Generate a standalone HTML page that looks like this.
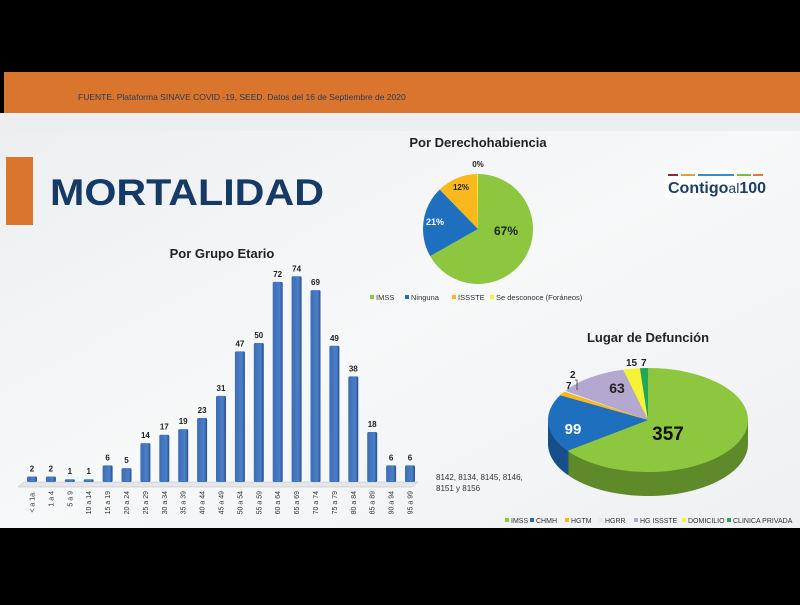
<!DOCTYPE html>
<html><head><meta charset="utf-8"><style>
body{margin:0;width:800px;height:600px;overflow:hidden;background:#000;font-family:"Liberation Sans",sans-serif}
</style></head><body>
<svg width="800" height="600" xmlns="http://www.w3.org/2000/svg" font-family="Liberation Sans, sans-serif">
<defs>
<linearGradient id="bg" x1="0" y1="0" x2="1" y2="1"><stop offset="0" stop-color="#eceef0"/><stop offset="0.5" stop-color="#f7f8f9"/><stop offset="1" stop-color="#eef0f2"/></linearGradient>
<linearGradient id="bar" x1="0" x2="1"><stop offset="0" stop-color="#3b6db5"/><stop offset="0.7" stop-color="#4a7fc8"/><stop offset="1" stop-color="#2a4f8a"/></linearGradient>
</defs>
<rect x="0" y="0" width="800" height="600" fill="#000"/>
<rect x="0" y="113" width="800" height="415" fill="url(#bg)"/>
<rect x="0" y="113" width="800" height="18" fill="#eceef0"/>
<rect x="4" y="72" width="796" height="41" fill="#d9752d"/>
<text x="78" y="100" font-size="8.5" fill="#2d3a55">FUENTE. Plataforma SINAVE COVID -19, SEED. Datos del 16 de Septiembre de 2020</text>
<rect x="6" y="157" width="27" height="68" fill="#d9752d"/>
<text x="50" y="205" font-size="37" font-weight="bold" fill="#153a66" textLength="274" lengthAdjust="spacingAndGlyphs">MORTALIDAD</text>
<!-- logo -->
<rect x="665" y="170" width="100" height="28" fill="#fff"/>
<rect x="668" y="174" width="10" height="2" fill="#8a2a3a"/><rect x="681" y="174" width="14" height="2" fill="#d9a040"/><rect x="698" y="174" width="36" height="2" fill="#3a8cc8"/><rect x="737" y="174" width="14" height="2" fill="#7ab84a"/><rect x="753" y="174" width="10" height="2" fill="#d97a4a"/>
<text x="668" y="193" font-size="16" font-weight="bold" fill="#1d3d6a">Contigo<tspan font-weight="normal" font-size="14">al</tspan>100</text>
<!-- bar chart -->
<text x="222" y="258" font-size="13" font-weight="bold" fill="#222" text-anchor="middle">Por Grupo Etario</text>
<polygon points="24,482 418,482 412,487 18,487" fill="#e4e6ea" stroke="#bbb" stroke-width="0.5"/>
<g id="bars"></g>
<text x="436" y="480" font-size="8" fill="#333">8142, 8134, 8145, 8146,</text>
<text x="436" y="491" font-size="8" fill="#333">8151 y 8156</text>
<!-- pie 1 -->
<text x="478" y="147" font-size="13" font-weight="bold" fill="#222" text-anchor="middle">Por Derechohabiencia</text>
<g id="pie1"></g>
<text x="478" y="167" font-size="8" font-weight="bold" fill="#222" text-anchor="middle">0%</text>
<text x="461" y="190" font-size="8" font-weight="bold" fill="#222" text-anchor="middle">12%</text>
<text x="435" y="225" font-size="9" font-weight="bold" fill="#fff" text-anchor="middle">21%</text>
<text x="506" y="235" font-size="12" font-weight="bold" fill="#222" text-anchor="middle">67%</text>
<g font-size="7.5" fill="#333">
<rect x="370" y="295" width="4" height="4" fill="#8dc63f"/><text x="376" y="300">IMSS</text>
<rect x="405" y="295" width="4" height="4" fill="#1f6fbf"/><text x="411" y="300">Ninguna</text>
<rect x="452" y="295" width="4" height="4" fill="#f9b81b"/><text x="458" y="300">ISSSTE</text>
<rect x="490" y="295" width="4" height="4" fill="#f6f23a"/><text x="496" y="300">Se desconoce (Foráneos)</text>
</g>
<!-- pie 2 -->
<text x="648" y="342" font-size="13" font-weight="bold" fill="#222" text-anchor="middle">Lugar de Defunción</text>
<g id="pie2"></g>
<text x="668" y="440" font-size="19" font-weight="bold" fill="#111" text-anchor="middle">357</text>
<text x="573" y="434" font-size="15" font-weight="bold" fill="#fff" text-anchor="middle">99</text>
<text x="617" y="393" font-size="14" font-weight="bold" fill="#222" text-anchor="middle">63</text>
<text x="566" y="389" font-size="10" font-weight="bold" fill="#222">7</text>
<text x="570" y="378" font-size="10" font-weight="bold" fill="#222">2</text>
<polyline points="575,380 577,380 577,390" fill="none" stroke="#333" stroke-width="0.7"/>
<text x="626" y="366" font-size="10" font-weight="bold" fill="#222">15</text>
<text x="641" y="366" font-size="10" font-weight="bold" fill="#222">7</text>
<g font-size="7" fill="#333">
<rect x="505" y="518" width="4" height="4" fill="#8dc63f"/><text x="511" y="523">IMSS</text>
<rect x="530" y="518" width="4" height="4" fill="#1f6fbf"/><text x="536" y="523">CHMH</text>
<rect x="565" y="518" width="4" height="4" fill="#f9b81b"/><text x="571" y="523">HGTM</text>
<rect x="599" y="518" width="4" height="4" fill="#e8e8ee"/><text x="605" y="523">HGRR</text>
<rect x="634" y="518" width="4" height="4" fill="#b4a7d0"/><text x="640" y="523">HG ISSSTE</text>
<rect x="682" y="518" width="4" height="4" fill="#f6f23a"/><text x="688" y="523">DOMICILIO</text>
<rect x="727" y="518" width="4" height="4" fill="#1fa85a"/><text x="733" y="523">CLINICA PRIVADA</text>
</g>
</svg>
<script>
const NS="http://www.w3.org/2000/svg";
function el(p,t,a,txt){const e=document.createElementNS(NS,t);for(const k in a)e.setAttribute(k,a[k]);if(txt!==undefined)e.textContent=txt;p.appendChild(e);return e;}
const vals=[2,2,1,1,6,5,14,17,19,23,31,47,50,72,74,69,49,38,18,6,6];
const labs=["< a 1a.","1 a 4","5 a 9","10 a 14","15 a 19","20 a 24","25 a 29","30 a 34","35 a 39","40 a 44","45 a 49","50 a 54","55 a 59","60 a 64","65 a 69","70 a 74","75 a 79","80 a 84","85 a 89","90 a 94","95 a 99"];
const g=document.getElementById("bars");
vals.forEach((v,i)=>{const cx=32+i*18.9,h=v*2.78,top=482-h;
el(g,"rect",{x:cx-5,y:top,width:10,height:h,fill:"url(#bar)",rx:1.5});
el(g,"text",{x:cx,y:top-5,"font-size":8,"font-weight":"bold",fill:"#222","text-anchor":"middle"},String(v));
el(g,"text",{x:0,y:0,"font-size":7,fill:"#333","text-anchor":"end",transform:`translate(${cx+2.5},491) rotate(-90)`},labs[i]);});
function slices(g,cx,cy,rx,ry,data,dy){let a=0;const tot=data.reduce((s,d)=>s+d[0],0);
data.forEach(d=>{const a1=a+d[0]/tot*2*Math.PI;const p=t=>[cx+rx*Math.sin(t),cy-ry*Math.cos(t)+(dy||0)];
const [x0,y0]=p(a),[x1,y1]=p(a1);const lg=(a1-a)>Math.PI?1:0;
el(g,"path",{d:`M${cx},${cy+(dy||0)}L${x0},${y0}A${rx},${ry} 0 ${lg} 1 ${x1},${y1}Z`,fill:d[1],stroke:d[2]||"none","stroke-width":0.5});a=a1;});}
slices(document.getElementById("pie1"),478,229,55,55,[[67,"#8dc63f"],[21,"#1f6fbf"],[12,"#f9b81b"],[0.3,"#f6f23a"]]);
const p2=document.getElementById("pie2");
// 3D side
for(let k=24;k>0;k-=2){slices(p2,648,420,100,52,[[357,"#5f8a2a"],[99,"#164f8a"],[7,"#b88a10"],[2,"#aaa"],[63,"#8a7ea0"],[15,"#b8b52a"],[7,"#15803f"]],k);}
slices(p2,648,420,100,52,[[357,"#8dc63f"],[99,"#1f6fbf"],[7,"#f9b81b"],[2,"#e8e8ee"],[63,"#b4a7d0"],[15,"#f6f23a"],[7,"#1fa85a"]]);
</script>
</body></html>
